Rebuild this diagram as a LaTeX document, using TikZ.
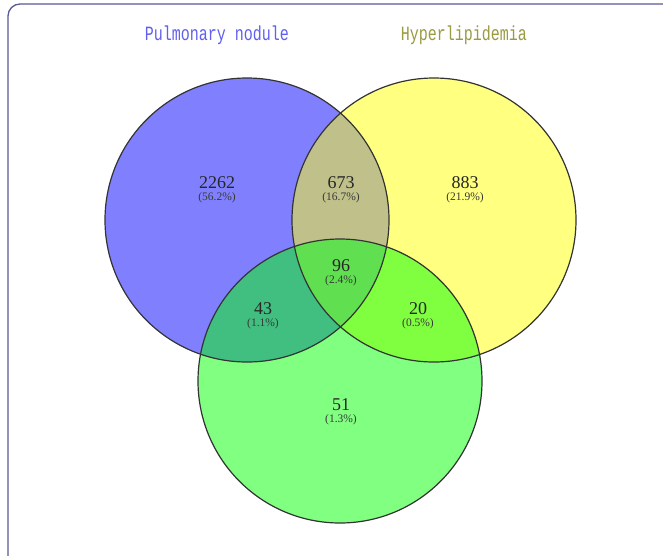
\documentclass[tikz,border=0pt]{standalone}
\usepackage{fontspec}
\setmainfont{Liberation Serif}
\newfontfamily\monof{Liberation Mono}
\definecolor{cblue}{HTML}{8080FF}
\definecolor{cyellow}{HTML}{FFFF80}
\definecolor{cgreen}{HTML}{80FF80}
\definecolor{cby}{HTML}{C0C08A}
\definecolor{cbg}{HTML}{40BF80}
\definecolor{cyg}{HTML}{80FF40}
\definecolor{cbyg}{HTML}{60DF50}
\definecolor{frame}{HTML}{5A5A96}
\definecolor{tblue}{HTML}{6060F0}
\definecolor{tolive}{HTML}{9A9A40}
\tikzset{
  num/.style={font=\fontsize{18}{18}\selectfont, text=black!85, inner sep=0pt},
  pct/.style={font=\fontsize{11.5}{12}\selectfont, text=black!78, inner sep=0pt},
  ttl/.style={font=\monof\fontsize{15}{15}\selectfont, inner sep=0pt},
  outline/.style={draw=black!80, line width=1.2pt}
}
\begin{document}
\begin{tikzpicture}[x=1pt,y=-1pt]
\useasboundingbox (0,0) rectangle (663,555);
\fill[white] (0,0) rectangle (663,555);
% frame
\draw[frame, line width=1.3pt, rounded corners=12pt] (8,570) -- (8,4) -- (680,4);
% circles
\coordinate (B) at (247,220);
\coordinate (Y) at (434,220);
\coordinate (G) at (340,381);
\def\R{142}
\fill[cblue] (B) circle[radius=\R];
\fill[cyellow] (Y) circle[radius=\R];
\fill[cgreen] (G) circle[radius=\R];
\begin{scope}
  \clip (B) circle[radius=\R];
  \fill[cby] (Y) circle[radius=\R];
  \fill[cbg] (G) circle[radius=\R];
\end{scope}
\begin{scope}
  \clip (Y) circle[radius=\R];
  \fill[cyg] (G) circle[radius=\R];
\end{scope}
\begin{scope}
  \clip (B) circle[radius=\R];
  \clip (Y) circle[radius=\R];
  \fill[cbyg] (G) circle[radius=\R];
\end{scope}
\draw[outline] (B) circle[radius=\R];
\draw[outline] (Y) circle[radius=\R];
\draw[outline] (G) circle[radius=\R];
% titles
\node[ttl, text=tblue] (t1) at (217,35) {\scalebox{1}[1.35]{Pulmonary nodule}};
\node[ttl, text=tolive] (t2) at (464,35) {\scalebox{1}[1.35]{Hyperlipidemia}};
% numbers
\node[num] (n1) at (217,183) {2262};
\node[pct] (p1) at (217,198) {(56.2\%)};
\node[num] (n2) at (341,183) {673};
\node[pct] (p2) at (341,198) {(16.7\%)};
\node[num] (n3) at (465,183) {883};
\node[pct] (p3) at (465,198) {(21.9\%)};
\node[num] (n4) at (341,266) {96};
\node[pct] (p4) at (341,281) {(2.4\%)};
\node[num] (n5) at (263,309) {43};
\node[pct] (p5) at (263,324) {(1.1\%)};
\node[num] (n6) at (418,309) {20};
\node[pct] (p6) at (418,324) {(0.5\%)};
\node[num] (n7) at (341,405) {51};
\node[pct] (p7) at (341,420) {(1.3\%)};
\end{tikzpicture}
\end{document}
